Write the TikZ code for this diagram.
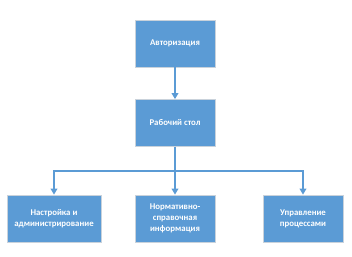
\documentclass[tikz,border=0pt]{standalone}
\usepackage{fontspec}
\setmainfont{Carlito}
\usetikzlibrary{arrows.meta,positioning}
\definecolor{boxblue}{HTML}{5B9BD5}
\definecolor{rimgray}{HTML}{C9D2DB}

\begin{document}
\begin{tikzpicture}[
  x=0.75pt,y=-0.75pt,
  flow/.style={-{Triangle[length=4.5pt,width=5pt]},line width=1.1pt,draw=boxblue},
  box/.style={draw=rimgray,line width=0.6pt,fill=boxblue,text=white,
    minimum width=60pt,minimum height=35.25pt,align=center,
    font=\fontsize{6.6}{8.2}\selectfont\bfseries,inner sep=2pt}
]
\useasboundingbox (0,0) rectangle (352,256);
\node[box] (auth) at (175,43.5) {Авторизация};
\node[box] (desk) at (175,123) {Рабочий стол};
\node[box,minimum width=70.5pt] (admin) at (54,218.5) {Настройка и\\администрирование};
\node[box] (refs) at (175,218.5) {Нормативно-\\справочная\\информация};
\node[box] (proc) at (303,218.5) {Управление\\процессами};
\coordinate (bus) at (175,171);
\draw[flow] (auth) -- (desk);
\draw[flow] (desk) -- (refs);
\draw[flow] (desk.south) |- (bus) -| (admin.north);
\draw[flow] (bus) -| (proc.north);
\end{tikzpicture}
\end{document}
